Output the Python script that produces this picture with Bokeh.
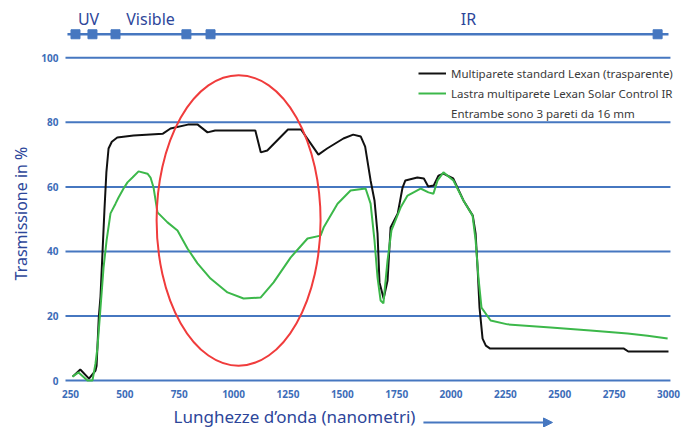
import math
from bokeh.plotting import figure
from bokeh.models import (Range1d, FixedTicker, Label, Arrow, NormalHead, Legend, LegendItem,
                          LinearAxis)
from bokeh.core.properties import value
from bokeh.embed import file_html
from bokeh.resources import INLINE

# ---------------- data ----------------
x_ticks = [250, 500, 750, 1000, 1250, 1500, 1750, 2000, 2250, 2500, 2750, 3000]
y_ticks = [0, 20, 40, 60, 80, 100]

std_nm = [260, 295, 335, 365, 370, 380, 388, 397, 406, 415, 425, 440, 465, 540, 675, 710,
          790, 835, 880, 915, 1100, 1125, 1155, 1250, 1310, 1355, 1390, 1430, 1505, 1550,
          1585, 1605, 1630, 1648, 1662, 1671, 1690, 1708, 1722, 1755, 1777, 1790, 1845, 1875,
          1895, 1920, 1942, 1965, 2010, 2057, 2100, 2113, 2122, 2131, 2145, 2160, 2180, 2795,
          2815, 3000]
std_pct = [1.2, 3.4, 0.6, 3.1, 4.6, 19.5, 26, 39.4, 52.7, 64.5, 71.9, 74, 75.3, 75.9, 76.5, 78.1,
           79.3, 79.3, 76.9, 77.5, 77.5, 70.7, 71.3, 77.8, 77.8, 73.4, 70, 71.9, 75, 76.2,
           75.6, 72.5, 62, 55.8, 45.5, 30.4, 25.4, 31, 47.4, 51.8, 59.8, 62, 62.9, 62.6,
           60.1, 60.4, 63.5, 64.1, 62.6, 55.8, 51.1, 45.5, 35, 22.6, 13, 10.8, 9.9, 9.9,
           9, 9]

ir_nm = [259, 287, 328, 351, 365, 374, 388, 402, 416, 434, 457, 471, 494, 512, 535, 563,
         604, 618, 632, 650, 696, 742, 788, 834, 894, 972, 1046, 1124, 1184, 1262, 1340,
         1400, 1414, 1478, 1538, 1607, 1630, 1648, 1662, 1676, 1689, 1708, 1726, 1768, 1800,
         1860, 1896, 1919, 1938, 1965, 2011, 2057, 2099, 2113, 2126, 2140, 2182, 2260, 2458,
         2641, 2812, 2904, 2996]
ir_pct = [1.2, 2.5, 0, 0, 5.3, 10.2, 22.6, 35, 43.4, 51.8, 54.8, 56.7, 59.5, 61.4, 62.9, 64.8,
          64.1, 62.9, 59.8, 52.1, 49, 46.5, 40.9, 36.3, 31.6, 27.3, 25.4, 25.7, 30.4, 38.1, 44,
          44.9, 47.4, 54.8, 58.9, 59.5, 54.8, 43.4, 31.9, 24.8, 23.9, 37.2, 46.5, 53.6, 57.3,
          59.5, 58.3, 57.9, 62, 64.5, 62, 55.8, 51.1, 43.4, 31.9, 22.6, 18.6, 17.4, 16.4,
          15.5, 14.6, 13.9, 13]

band_names = ["UV", "Visible", "IR"]
band_label_nm = [333, 618, 2080]
band_marks_nm = [273, 351, 457, 783, 894, 2950]

# highlight ellipse (nm, %)
ell_x, ell_y, ell_w, ell_h = 1023, 49.6, 754, 90

legend_labels = ["Multiparete standard Lexan (trasparente)",
                 "Lastra multiparete Lexan Solar Control IR",
                 "Entrambe sono 3 pareti da 16 mm"]

# ---------------- layout constants ----------------
GRID_X0, GRID_X1 = 227, 3009      # extent of the horizontal rules
BAND_X0, BAND_X1, BAND_Y, BAND_LABEL_Y = 236, 3000, 107.3, 111.9

GRID = "#4677c0"
NAVY = "#2d469a"
TICK = "#3d6db8"
FONT = "Noto Sans"

p = figure(width=683, height=427, output_backend="svg", toolbar_location=None,
           x_range=Range1d(-71.9, 3069.0), y_range=Range1d(-14.56, 117.76),
           x_axis_type=None, y_axis_type=None,
           min_border_left=0, min_border_right=0, min_border_top=0, min_border_bottom=0)
p.outline_line_color = None
p.background_fill_color = "white"

xaxis = LinearAxis(fixed_location=0, ticker=FixedTicker(ticks=x_ticks))
yaxis = LinearAxis(fixed_location=GRID_X0, ticker=FixedTicker(ticks=y_ticks))
for ax in (xaxis, yaxis):
    ax.axis_line_color = None
    ax.major_tick_line_color = None
    ax.minor_tick_line_color = None
    ax.major_tick_out = 0
    ax.major_tick_in = 0
    ax.major_label_text_color = TICK
    ax.major_label_text_font = FONT
    ax.major_label_text_font_style = "bold"
    ax.major_label_text_font_size = "10px"
xaxis.major_label_standoff = 9
yaxis.major_label_standoff = 7
p.add_layout(xaxis, "below")
p.add_layout(yaxis, "left")

# horizontal rules at the y ticks
p.segment(x0=[GRID_X0] * len(y_ticks), x1=[GRID_X1] * len(y_ticks), y0=y_ticks, y1=y_ticks,
          line_color=GRID, line_width=2)

# band indicator
p.line(x=[BAND_X0, BAND_X1], y=[BAND_Y, BAND_Y], line_color=GRID, line_width=2.5)
p.scatter(x=band_marks_nm, y=[BAND_Y] * len(band_marks_nm), marker="square", size=9,
          fill_color=GRID, line_color=GRID)
p.text(x=band_label_nm, y=[BAND_LABEL_Y] * len(band_names), text=band_names,
       text_font=value(FONT), text_font_size="16px", text_color=NAVY,
       text_align="center", text_baseline="middle")

# curves
r_std = p.line(x=std_nm, y=std_pct, line_color="#111111", line_width=2)
r_ir = p.line(x=ir_nm, y=ir_pct, line_color="#3cb84a", line_width=2)
r_note = p.line(x=ir_nm, y=ir_pct, line_alpha=0)

# highlight ellipse
p.ellipse(x=[ell_x], y=[ell_y], width=[ell_w], height=[ell_h],
          fill_color=None, line_color="#f03c3c", line_width=2)

legend = Legend(items=[LegendItem(label=legend_labels[0], renderers=[r_std]),
                       LegendItem(label=legend_labels[1], renderers=[r_ir]),
                       LegendItem(label=legend_labels[2], renderers=[r_note])],
                location=(418, 305), padding=0, margin=0, spacing=2,
                label_height=18, glyph_height=18, glyph_width=28, label_standoff=5,
                label_text_font=FONT, label_text_font_size="11.5px", label_text_color="#3a3a3a",
                border_line_color=None, background_fill_alpha=0)
p.add_layout(legend, "center")

# axis titles
p.add_layout(Label(x=723.7, y=-11.0, text="Lunghezze d\u2019onda (nanometri)",
                   text_font=FONT, text_font_size="17px", text_color=NAVY,
                   text_align="left", text_baseline="middle"))
p.add_layout(Label(x=20.1, y=51.75, text="Trasmissione in %", angle=math.pi / 2,
                   text_font=FONT, text_font_size="16px", text_color=NAVY,
                   text_align="center", text_baseline="middle"))
p.add_layout(Arrow(end=NormalHead(size=9, fill_color=GRID, line_color=GRID),
                   x_start=1873, y_start=-13.0, x_end=2466.6, y_end=-13.0,
                   line_color=GRID, line_width=2))

open("out.html", "w").write(file_html(p, INLINE))
